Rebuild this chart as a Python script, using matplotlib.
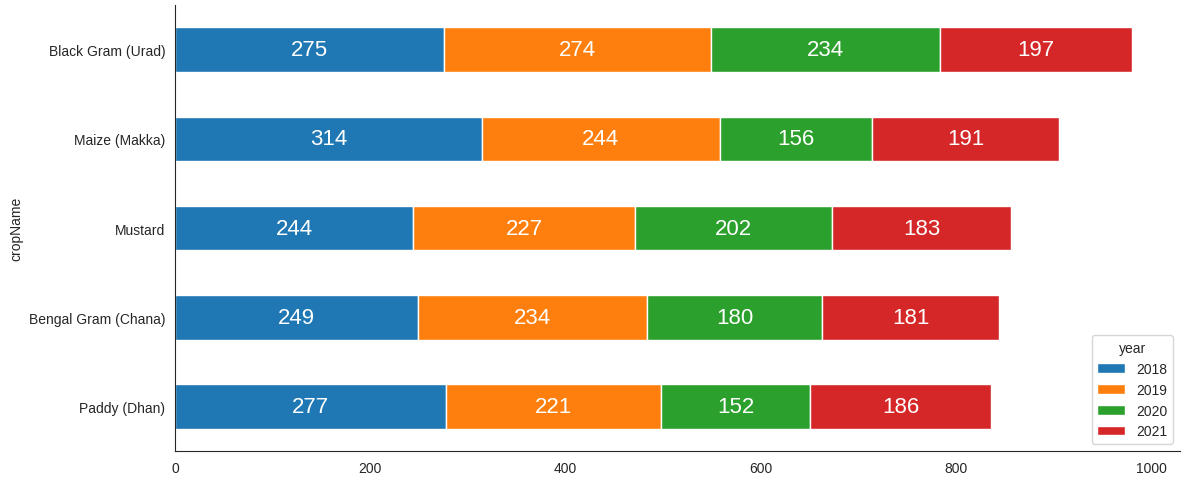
import pandas as pd
import matplotlib.pyplot as plt
import seaborn as sns

sns.set_style('white')
plt.rcParams['font.family'] = ['Liberation Sans', 'DejaVu Sans']

crops = ['Paddy (Dhan)', 'Bengal Gram (Chana)', 'Mustard', 'Maize (Makka)', 'Black Gram (Urad)']
y2018 = [277, 249, 244, 314, 275]
y2019 = [221, 234, 227, 244, 274]
y2020 = [152, 180, 202, 156, 234]
y2021 = [186, 181, 183, 191, 197]

df = pd.DataFrame({'2018': y2018, '2019': y2019, '2020': y2020, '2021': y2021},
                  index=pd.Index(crops, name='cropName'))
df.columns.name = 'year'

fig = plt.figure(figsize=(11.85, 4.81), dpi=100)
ax = fig.add_axes([0.1477, 0.0603, 0.848, 0.927])
df.plot(kind='barh', stacked=True, ax=ax,
        color=['#1f77b4', '#ff7f0e', '#2ca02c', '#d62728'], edgecolor='white')

for c in ax.containers:
    ax.bar_label(c, label_type='center', color='white', fontsize=16)

sns.despine(ax=ax)
ax.legend(title='year', loc='lower right')

fig.savefig('out.png', dpi=100)
